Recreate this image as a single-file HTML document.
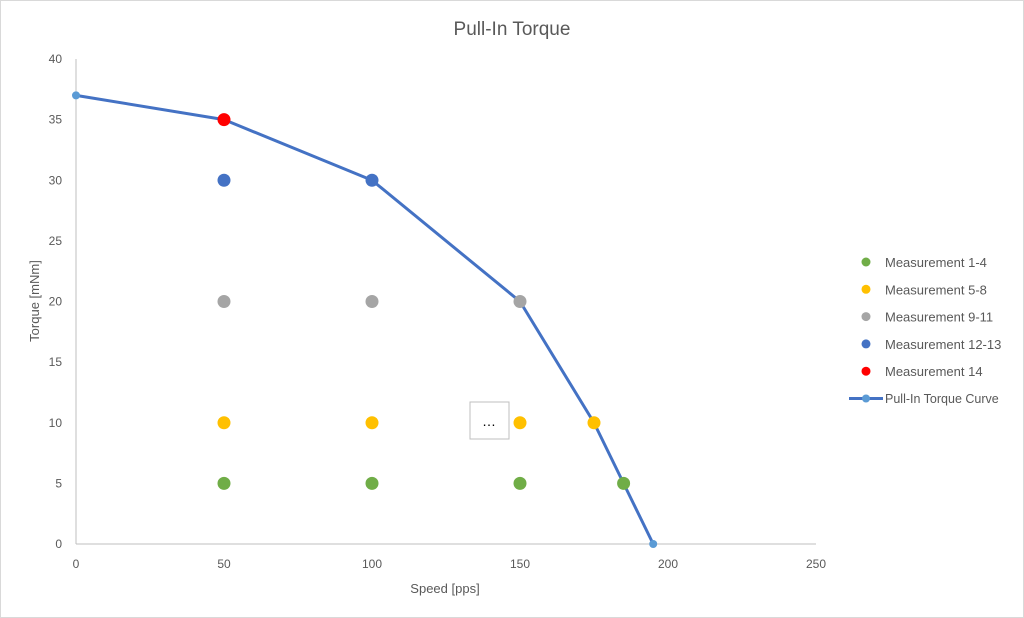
<!DOCTYPE html>
<html><head><meta charset="utf-8">
<style>
html,body{margin:0;padding:0;background:#fff;}
svg{display:block;font-family:"Liberation Sans",sans-serif;}
</style></head>
<body>
<svg id="chart" width="1024" height="618" viewBox="0 0 1024 618">
<rect x="0.5" y="0.5" width="1023" height="617" fill="#fff" stroke="#d9d9d9"/>
<text x="512" y="35" text-anchor="middle" font-size="19" fill="#595959">Pull-In Torque</text>
<g id="axes"></g>
<g id="curve"></g>
<g id="points"></g>
<g>
<rect x="470" y="402" width="39" height="37" fill="#fff" stroke="#bfbfbf"/>
<text x="489" y="426" text-anchor="middle" font-size="14" fill="#000">…</text>
</g>
<text x="445" y="593" text-anchor="middle" font-size="13" fill="#595959">Speed [pps]</text>
<text transform="translate(39,301) rotate(-90)" text-anchor="middle" font-size="13" fill="#595959">Torque [mNm]</text>
<g id="legend"></g>
</svg>
<script>
const xTicks=[0,50,100,150,200,250];
const yTicks=[0,5,10,15,20,25,30,35,40];
const curveX=[0,50,100,150,175,185,195];
const curveY=[37,35,30,20,10,5,0];
const seriesNames=["Measurement 1-4","Measurement 5-8","Measurement 9-11","Measurement 12-13","Measurement 14"];
const seriesColors=["#70ad47","#ffc000","#a5a5a5","#4472c4","#ff0000"];
const seriesX=[[50,100,150,185],[50,100,150,175],[50,100,150],[50,100],[50]];
const seriesY=[[5,5,5,5],[10,10,10,10],[20,20,20],[30,30],[35]];
const NS="http://www.w3.org/2000/svg";
const x0=76,x1=816,y0=544,y1=59;
const sx=v=>x0+(v-0)/(250-0)*(x1-x0);
const sy=v=>y0-(v-0)/(40-0)*(y0-y1);
function mk(tag,attrs,parent){const e=document.createElementNS(NS,tag);for(const k in attrs)e.setAttribute(k,attrs[k]);parent.appendChild(e);return e;}
const axes=document.getElementById('axes');
let l=mk('line',{x1:x0,y1:y0,x2:x1,y2:y0,stroke:'#bfbfbf','stroke-width':1},axes);


l=mk('line',{x1:x0,y1:y0,x2:x0,y2:y1,stroke:'#bfbfbf','stroke-width':1},axes);


xTicks.forEach(t=>{const e=mk('text',{x:sx(t),y:y0+24,'text-anchor':'middle','font-size':12,fill:'#595959'},axes);e.textContent=t;

});
yTicks.forEach(t=>{const e=mk('text',{x:x0-14,y:sy(t)+4,'text-anchor':'end','font-size':12,fill:'#595959'},axes);e.textContent=t;

});
const cg=document.getElementById('curve');
const pl=mk('polyline',{points:curveX.map((x,i)=>sx(x)+','+sy(curveY[i])).join(' '),fill:'none',stroke:'#4472c4','stroke-width':3,'stroke-linejoin':'round'},cg);


curveX.forEach((x,i)=>{const c=mk('circle',{cx:sx(x),cy:sy(curveY[i]),r:4,fill:'#5b9bd5'},cg);

});
const pg=document.getElementById('points');
seriesX.forEach((xs,s)=>xs.forEach((x,i)=>{const c=mk('circle',{cx:sx(x),cy:sy(seriesY[s][i]),r:6.5,fill:seriesColors[s]},pg);

}));
const lg=document.getElementById('legend');
seriesNames.forEach((n,i)=>{const y=262+i*27.3;const g=mk('g',{},lg);


mk('circle',{cx:866,cy:y,r:4.5,fill:seriesColors[i]},g);
const t=mk('text',{x:885,y:y+5,'font-size':13,fill:'#595959'},g);t.textContent=n;});
const g=mk('g',{},lg);


mk('line',{x1:849,y1:398.5,x2:883,y2:398.5,stroke:'#4472c4','stroke-width':3},g);
mk('circle',{cx:866,cy:398.5,r:4,fill:'#5b9bd5'},g);
const t=mk('text',{x:885,y:403,'font-size':12.5,fill:'#595959'},g);t.textContent='Pull-In Torque Curve';
</script>
</body></html>
